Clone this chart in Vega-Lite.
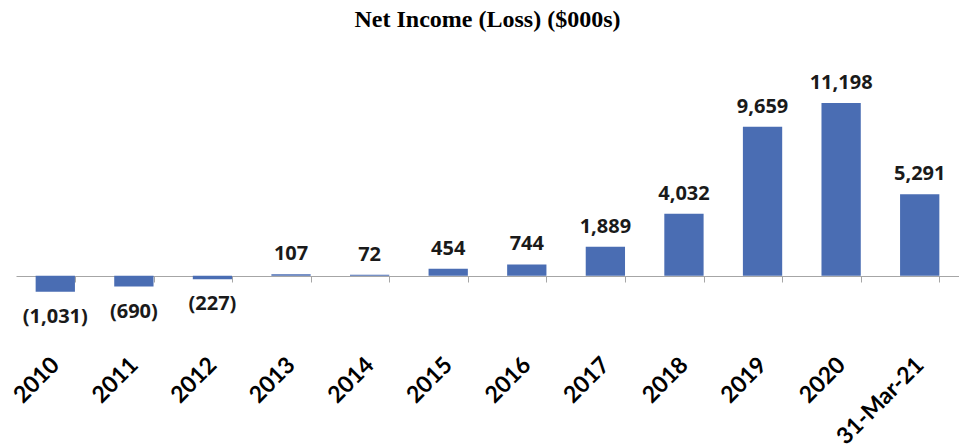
{
  "$schema": "https://vega.github.io/schema/vega-lite/v6.json",
  "autosize": "none",
  "width": 943,
  "height": 216,
  "padding": {"left": 16, "top": 83, "right": 0, "bottom": 145},
  "background": "white",
  "title": {
    "text": "Net Income (Loss) ($000s)",
    "font": "Liberation Serif",
    "fontSize": 24,
    "fontWeight": "bold",
    "color": "#000000",
    "anchor": "middle",
    "frame": "group",
    "offset": 41
  },
  "config": {"view": {"stroke": null}},
  "data": {
    "values": [
      {"period": "2010", "value": -1031, "label": "(1,031)"},
      {"period": "2011", "value": -690, "label": "(690)"},
      {"period": "2012", "value": -227, "label": "(227)"},
      {"period": "2013", "value": 107, "label": "107"},
      {"period": "2014", "value": 72, "label": "72"},
      {"period": "2015", "value": 454, "label": "454"},
      {"period": "2016", "value": 744, "label": "744"},
      {"period": "2017", "value": 1889, "label": "1,889"},
      {"period": "2018", "value": 4032, "label": "4,032"},
      {"period": "2019", "value": 9659, "label": "9,659"},
      {"period": "2020", "value": 11198, "label": "11,198"},
      {"period": "31-Mar-21", "value": 5291, "label": "5,291"}
    ]
  },
  "encoding": {
    "x": {
      "field": "period",
      "type": "nominal",
      "sort": null,
      "scale": {"paddingInner": 0.5, "paddingOuter": 0.25},
      "axis": {
        "title": null,
        "offset": -23,
        "tickBand": "extent",
        "domainColor": "#a6a6a6",
        "tickColor": "#a6a6a6",
        "tickSize": 6,
        "labelAngle": -45,
        "labelAlign": "right",
        "labelBaseline": "middle",
        "labelPadding": 79,
        "labelFont": "Lato",
        "labelFontSize": 23,
        "labelFontWeight": "bold",
        "labelColor": "#000000"
      }
    },
    "y": {
      "field": "value",
      "type": "quantitative",
      "scale": {"domain": [-1500, 12500], "nice": false, "zero": true},
      "axis": null
    }
  },
  "layer": [
    {"mark": {"type": "bar", "color": "#4a6db3"}},
    {
      "transform": [{"filter": "datum.value >= 0"}],
      "mark": {"type": "text", "baseline": "bottom", "dy": -10, "font": "Open Sans", "fontSize": 20, "fontWeight": "bold", "color": "#1a1a1a"},
      "encoding": {"text": {"field": "label"}}
    },
    {
      "transform": [{"filter": "datum.value < 0"}],
      "mark": {"type": "text", "baseline": "top", "dy": 15, "font": "Open Sans", "fontSize": 20, "fontWeight": "bold", "color": "#1a1a1a"},
      "encoding": {"text": {"field": "label"}}
    }
  ]
}
